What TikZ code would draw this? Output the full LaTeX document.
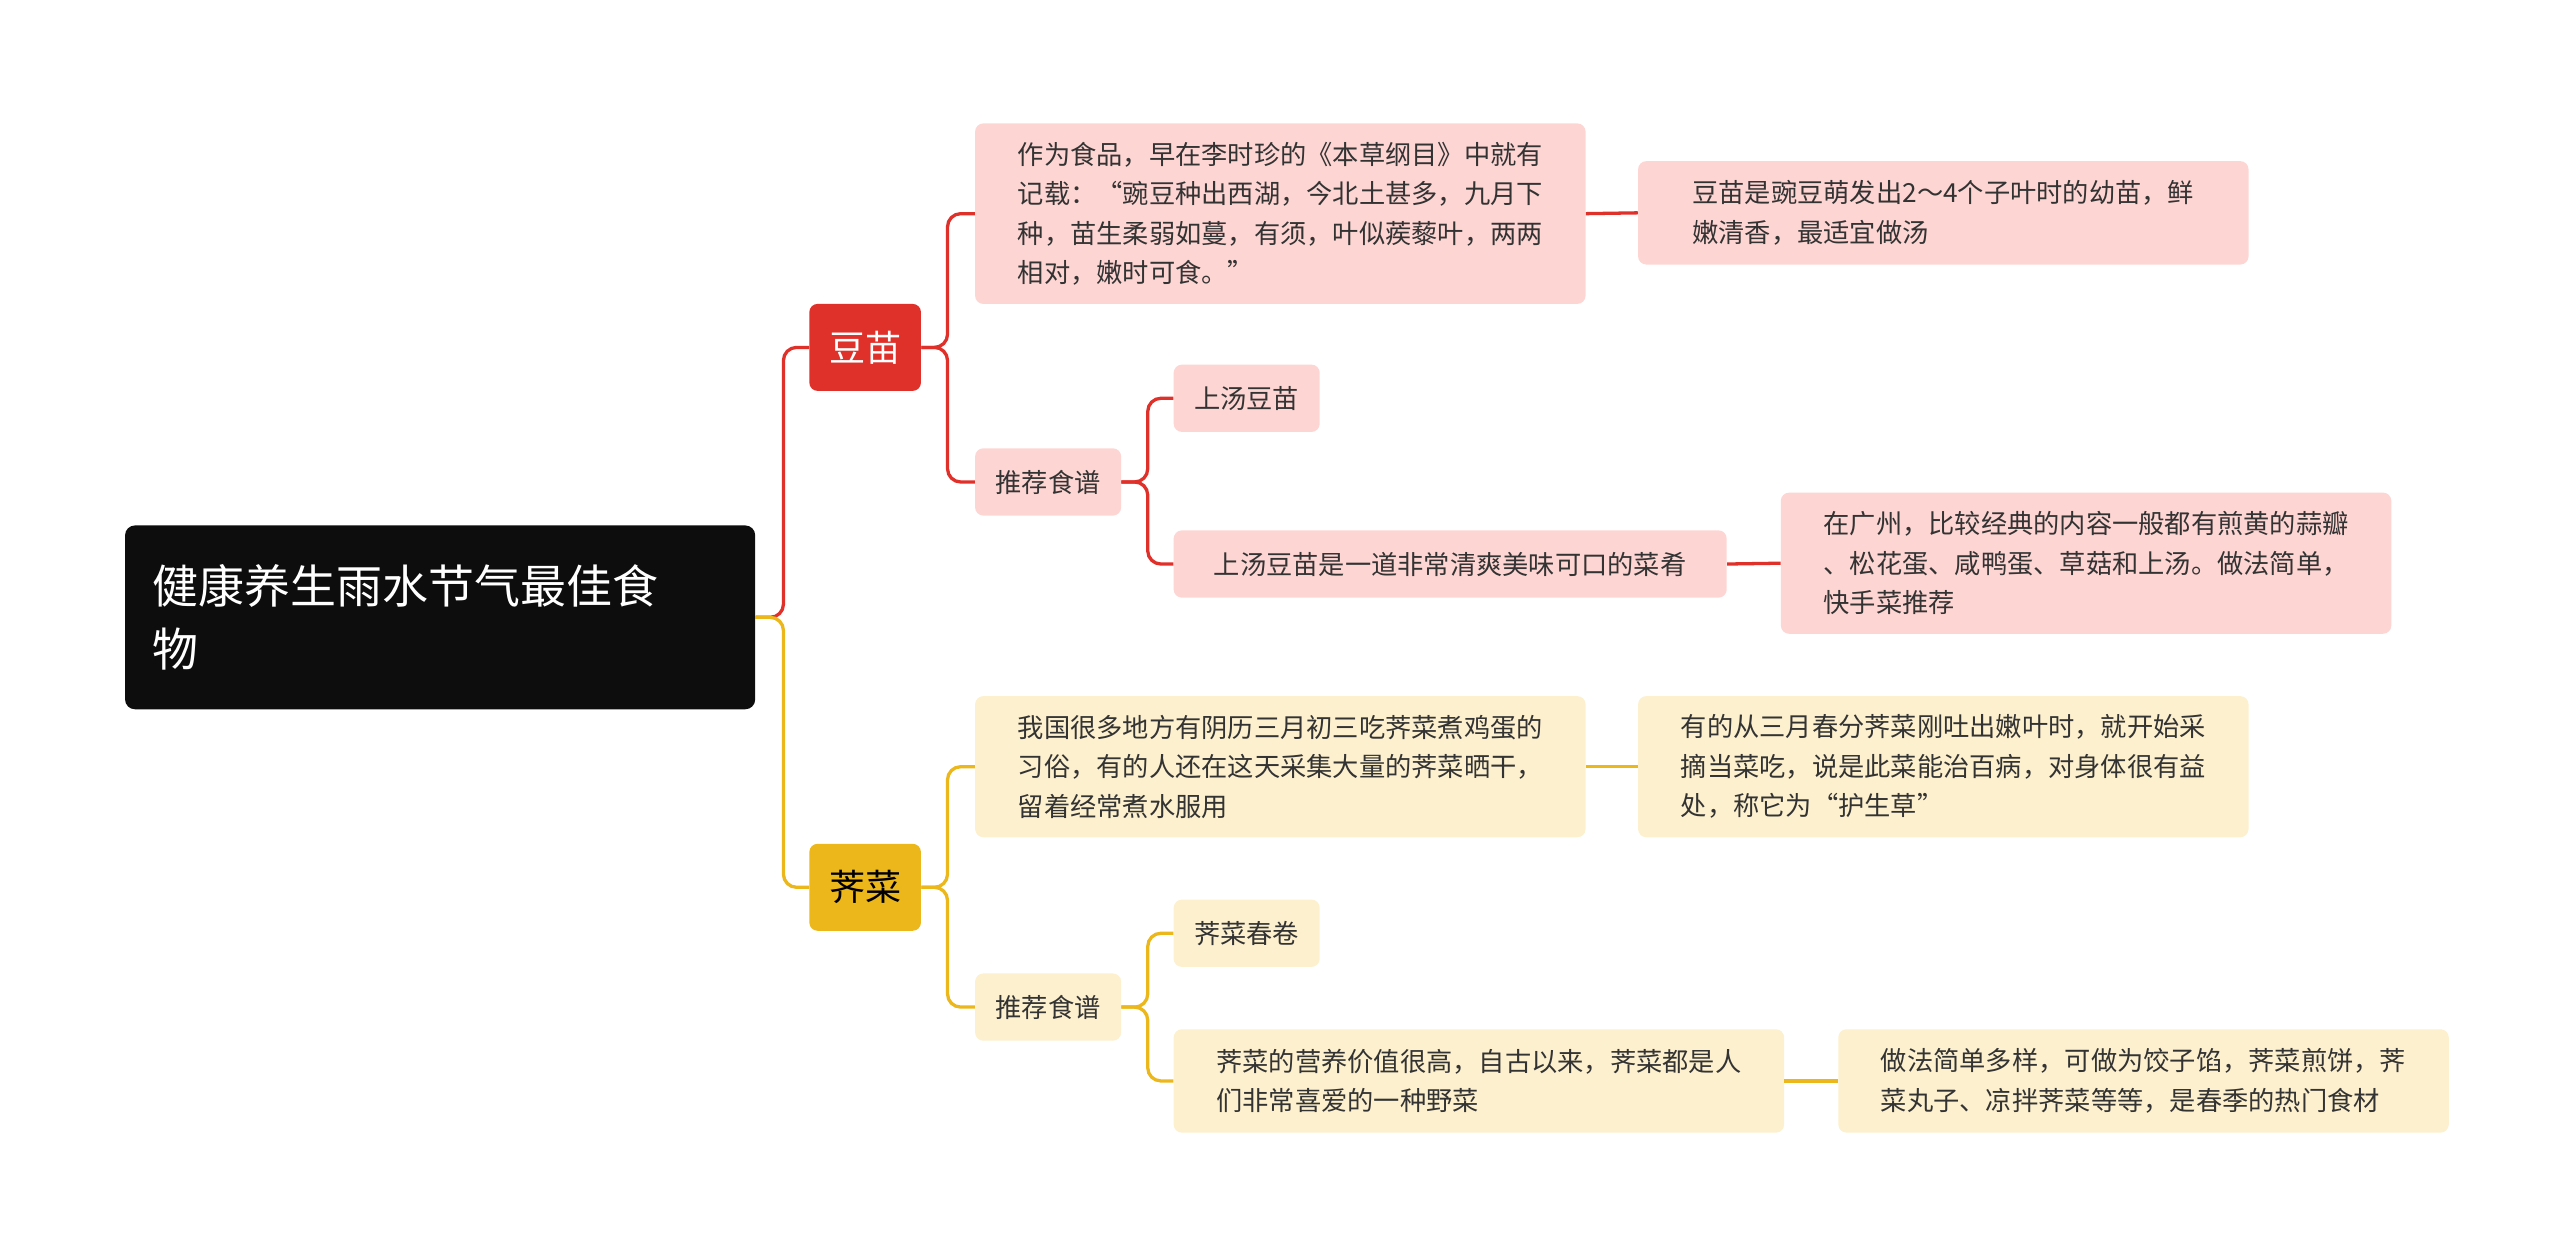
\documentclass[tikz,border=0pt]{standalone}
\usepackage{fontspec}
\setmainfont{Noto Sans CJK SC}
\definecolor{rline}{HTML}{E0302A}
\definecolor{yline}{HTML}{EBB71A}
\definecolor{pinkbg}{HTML}{FDD5D3}
\definecolor{ylbg}{HTML}{FDF0CE}
\definecolor{txt}{HTML}{333333}
\begin{document}
\begin{tikzpicture}[x=1pt,y=-1pt,
  bx/.style={anchor=north west,rounded corners=5pt,inner xsep=9pt,inner ysep=0pt,align=left,font=\fontsize{16}{24}\selectfont,text=txt},
  pk/.style={bx,fill=pinkbg},
  yl/.style={bx,fill=ylbg},
  rl/.style={draw=rline,line width=2pt,rounded corners=8pt},
  ylw/.style={draw=yline,line width=2pt,rounded corners=8pt}]
\useasboundingbox (0,0) rectangle (1560,762);
\node[anchor=north west,fill=black!95,rounded corners=6pt,minimum width=384pt,minimum height=112pt,text width=350pt,align=left,text=white,font=\fontsize{28}{38}\selectfont] (root) at (76,320) {健康养生雨水节气最佳食\\物};
\node[anchor=north west,fill=rline,rounded corners=5pt,minimum width=68pt,minimum height=53pt,text=white,font=\fontsize{22}{26}\selectfont] (dm) at (493,185) {豆苗};
\node[anchor=north west,fill=yline,rounded corners=5pt,minimum width=68pt,minimum height=53pt,text=black,font=\fontsize{22}{26}\selectfont] (jc) at (493,514) {荠菜};
\node[pk,minimum width=372pt,minimum height=110pt] (a1) at (594,75) {作为食品，早在李时珍的《本草纲目》中就有\\记载：“豌豆种出西湖，今北土甚多，九月下\\种，苗生柔弱如蔓，有须，叶似蒺藜叶，两两\\相对，嫩时可食。”};
\node[pk,minimum width=372pt,minimum height=63pt] (a2) at (998,98) {豆苗是豌豆萌发出2～4个子叶时的幼苗，鲜\\嫩清香，最适宜做汤};
\node[pk,minimum width=89pt,minimum height=41pt] (r1) at (594,273) {推荐食谱};
\node[pk,minimum width=89pt,minimum height=41pt] (r11) at (715,222) {上汤豆苗};
\node[pk,minimum width=337pt,minimum height=41pt] (r12) at (715,323) {上汤豆苗是一道非常清爽美味可口的菜肴};
\node[pk,minimum width=372pt,minimum height=86pt] (r13) at (1085,300) {在广州，比较经典的内容一般都有煎黄的蒜瓣\\、松花蛋、咸鸭蛋、草菇和上汤。做法简单，\\快手菜推荐};
\node[yl,minimum width=372pt,minimum height=86pt] (b1) at (594,424) {我国很多地方有阴历三月初三吃荠菜煮鸡蛋的\\习俗，有的人还在这天采集大量的荠菜晒干，\\留着经常煮水服用};
\node[yl,minimum width=372pt,minimum height=86pt] (b2) at (998,424) {有的从三月春分荠菜刚吐出嫩叶时，就开始采\\摘当菜吃，说是此菜能治百病，对身体很有益\\处，称它为“护生草”};
\node[yl,minimum width=89pt,minimum height=41pt] (s1) at (594,593) {推荐食谱};
\node[yl,minimum width=89pt,minimum height=41pt] (s11) at (715,548) {荠菜春卷};
\node[yl,minimum width=372pt,minimum height=63pt] (s12) at (715,627) {荠菜的营养价值很高，自古以来，荠菜都是人\\们非常喜爱的一种野菜};
\node[yl,minimum width=372pt,minimum height=63pt] (s13) at (1120,627) {做法简单多样，可做为饺子馅，荠菜煎饼，荠\\菜丸子、凉拌荠菜等等，是春季的热门食材};
% connectors
\draw[rl] (root.east) -- ++(17,0) |- (dm.west);
\draw[ylw] (root.east) -- ++(17,0) |- (jc.west);
\draw[rl] (dm.east) -- ++(16,0) |- (a1.west);
\draw[rl] (dm.east) -- ++(16,0) |- (r1.west);
\draw[rl] (a1.east) -- (a2.west);
\draw[rl] (r1.east) -- ++(16,0) |- (r11.west);
\draw[rl] (r1.east) -- ++(16,0) |- (r12.west);
\draw[rl] (r12.east) -- (r13.west);
\draw[ylw] (jc.east) -- ++(16,0) |- (b1.west);
\draw[ylw] (jc.east) -- ++(16,0) |- (s1.west);
\draw[ylw] (b1.east) -- (b2.west);
\draw[ylw] (s1.east) -- ++(16,0) |- (s11.west);
\draw[ylw] (s1.east) -- ++(16,0) |- (s12.west);
\draw[ylw] (s12.east) -- (s13.west);
\end{tikzpicture}
\end{document}
